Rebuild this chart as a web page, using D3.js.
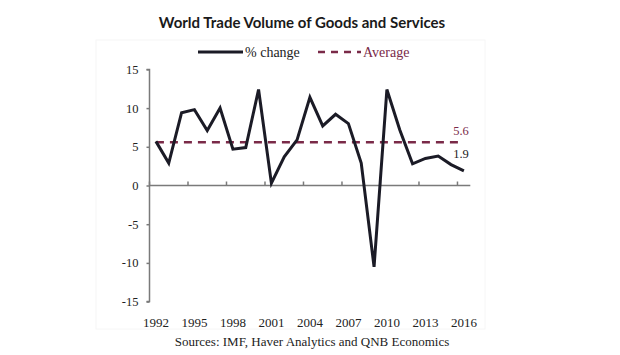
<!DOCTYPE html>
<html>
<head>
<meta charset="utf-8">
<script src="https://cdn.jsdelivr.net/npm/d3@7"></script>
<style>
  html, body { margin: 0; padding: 0; background: #fff; }
  svg { display: block; }
</style>
</head>
<body>
<svg id="chart" width="620" height="355"></svg>
<script>
const years = [1992,1993,1994,1995,1996,1997,1998,1999,2000,2001,2002,2003,2004,2005,2006,2007,2008,2009,2010,2011,2012,2013,2014,2015,2016];
const pctChange = [5.7,2.9,9.4,9.8,7.1,10.0,4.7,4.9,12.4,0.3,3.7,5.9,11.4,7.7,9.2,8.0,2.9,-10.5,12.4,7.2,2.8,3.5,3.8,2.7,1.9];
const averageValue = 5.6;
const yTicks = [-15,-10,-5,0,5,10,15];
const xTickLabels = [1992,1995,1998,2001,2004,2007,2010,2013,2016];
const titleText = "World Trade Volume of Goods and Services";
const sourceText = "Sources: IMF, Haver Analytics and QNB Economics";
const legendLabels = ["% change", "Average"];

const svg = d3.select("#chart");
const serif = "'Liberation Serif', 'Times New Roman', serif";
const lineColor = "#1b1b26";
const avgColor = "#7a2a48";
const axisColor = "#7a7a7a";

// faint frame
svg.append("rect").attr("x", 96).attr("y", 40).attr("width", 389).attr("height", 289)
  .attr("fill", "none").attr("stroke", "#f6f6f6").attr("stroke-width", 1);

const plotLeft = 149.5, plotRight = 470.3;
const x = d3.scaleBand().domain(years).range([plotLeft, plotRight]);
const y = d3.scaleLinear().domain([-15, 15]).range([301.6, 69.4]);
const cx = d => x(d) + x.bandwidth() / 2;

// Title
svg.append("text").attr("x", 302).attr("y", 28).attr("text-anchor", "middle")
  .attr("font-family", "Lato, 'Open Sans', sans-serif").attr("font-weight", "bold")
  .attr("font-size", 15).attr("fill", "#1a1a1a").text(titleText);

// Legend
const lg = svg.append("g");
lg.append("line").attr("x1", 198).attr("x2", 243).attr("y1", 52).attr("y2", 52)
  .attr("stroke", lineColor).attr("stroke-width", 3);
lg.append("text").attr("x", 245).attr("y", 56.5).attr("font-family", serif).attr("font-size", 14)
  .attr("fill", "#222").text(legendLabels[0]);
lg.append("line").attr("x1", 318).attr("x2", 361).attr("y1", 52).attr("y2", 52)
  .attr("stroke", avgColor).attr("stroke-width", 2.5).attr("stroke-dasharray", "7,6");
lg.append("text").attr("x", 363).attr("y", 56.5).attr("font-family", serif).attr("font-size", 14)
  .attr("fill", avgColor).text(legendLabels[1]);

// Y axis
const yAxis = d3.axisLeft(y).tickValues(yTicks).tickSize(3).tickPadding(8).tickFormat(d => String(d));
const gy = svg.append("g").attr("transform", `translate(${plotLeft},0)`).call(yAxis);
gy.select(".domain").attr("stroke", axisColor).attr("stroke-width", 1.5).attr("d", `M-3,${y(15)}H0V${y(-15)}H-3`);
gy.selectAll(".tick line").attr("stroke", axisColor).attr("stroke-width", 1.5);
gy.selectAll(".tick text").attr("font-family", serif).attr("font-size", 12.5).attr("fill", "#222");

// X axis at zero
const boundaryTicks = d3.range(0, years.length + 1, 3).map(i => plotLeft + i * x.step());
const gx = svg.append("g");
gx.append("line").attr("x1", plotLeft).attr("x2", plotRight).attr("y1", y(0)).attr("y2", y(0))
  .attr("stroke", axisColor).attr("stroke-width", 1.5);
gx.selectAll("line.tk").data(boundaryTicks).join("line").attr("class", "tk")
  .attr("x1", d => d).attr("x2", d => d).attr("y1", y(0)).attr("y2", y(0) - 4)
  .attr("stroke", axisColor).attr("stroke-width", 1.5);

// X labels at bottom
svg.append("g").selectAll("text").data(xTickLabels).join("text")
  .attr("x", d => cx(d)).attr("y", 327).attr("text-anchor", "middle")
  .attr("font-family", serif).attr("font-size", 13).attr("fill", "#222").text(d => d);

// Average line
svg.append("line").attr("x1", cx(years[0])).attr("x2", cx(years[years.length - 1]))
  .attr("y1", y(averageValue)).attr("y2", y(averageValue))
  .attr("stroke", avgColor).attr("stroke-width", 2.5).attr("stroke-dasharray", "8,6");

// Data line
const line = d3.line().x((d, i) => cx(years[i])).y(d => y(d));
svg.append("path").datum(pctChange).attr("d", line).attr("fill", "none")
  .attr("stroke", lineColor).attr("stroke-width", 3).attr("stroke-linejoin", "miter");

// End labels
svg.append("text").attr("x", 461).attr("y", y(averageValue) - 7).attr("text-anchor", "middle")
  .attr("font-family", serif).attr("font-size", 12.5).attr("fill", avgColor).text(averageValue.toFixed(1));
svg.append("text").attr("x", 461).attr("y", y(averageValue) + 16).attr("text-anchor", "middle")
  .attr("font-family", serif).attr("font-size", 12.5).attr("fill", "#222").text(pctChange[pctChange.length - 1].toFixed(1));

// Sources
svg.append("text").attr("x", 312).attr("y", 346).attr("text-anchor", "middle")
  .attr("font-family", serif).attr("font-size", 13).attr("fill", "#222").text(sourceText);
</script>
</body>
</html>
